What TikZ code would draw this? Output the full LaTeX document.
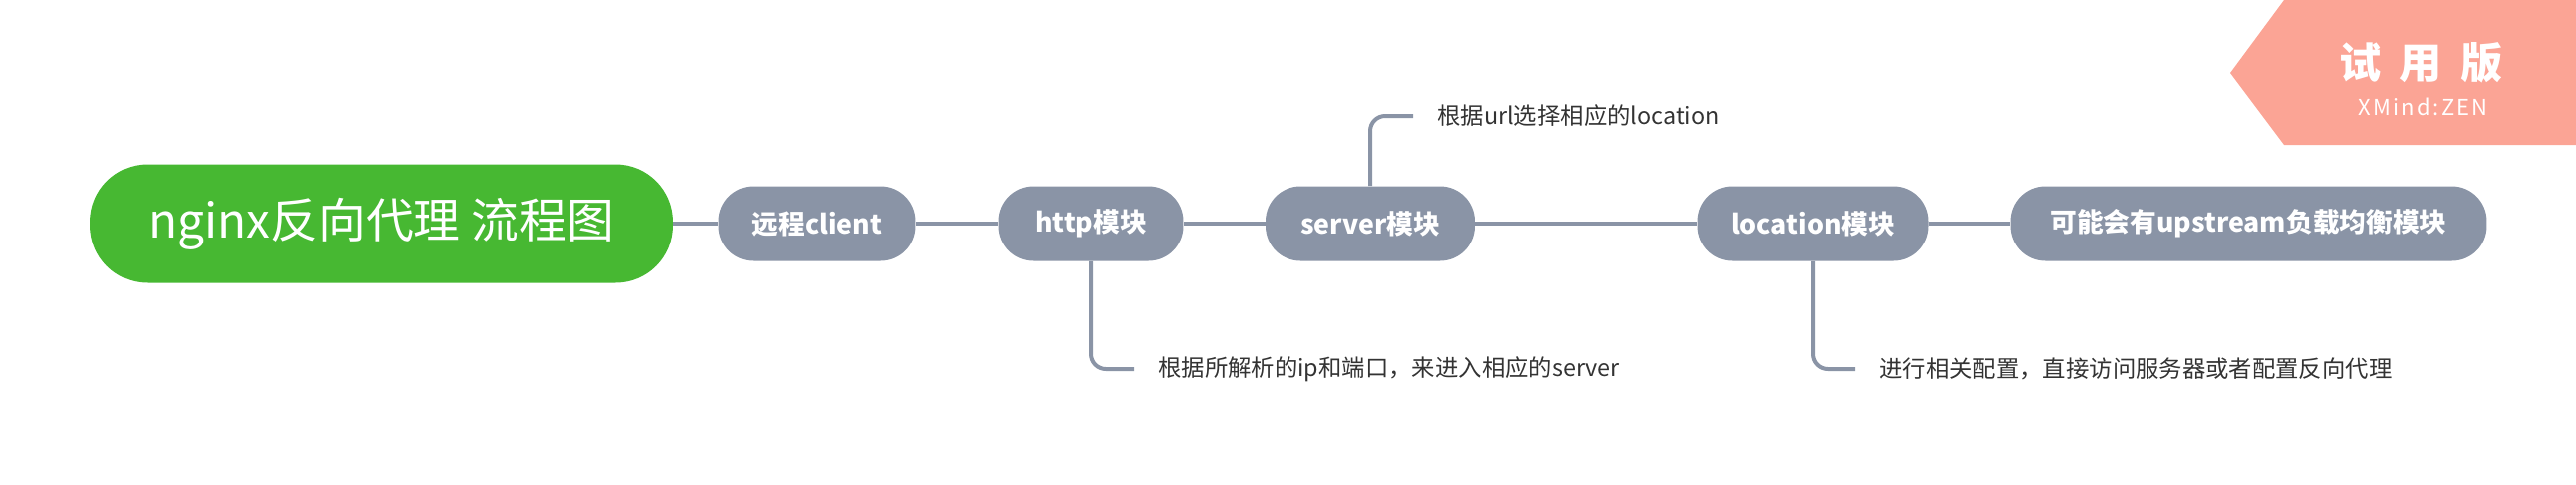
\documentclass[tikz,border=0pt]{standalone}
\usepackage{fontspec}
\setmainfont{Noto Sans CJK SC}
\definecolor{rootgreen}{HTML}{47B832}
\definecolor{topicgray}{HTML}{8A94A6}
\definecolor{trialpink}{HTML}{FBA495}
\definecolor{notetext}{HTML}{333333}

\begin{document}
\begin{tikzpicture}[x=0.02cm,y=-0.02cm,
		topic/.style={fill=topicgray,text=white,font=\bfseries\fontsize{15.2}{17}\selectfont,rounded corners=0.7cm,minimum height=1.5cm,inner sep=0pt},
		branch/.style={topicgray,line width=0.08cm},
		note/.style={anchor=west,text=notetext,font=\fontsize{13.3}{15}\selectfont,inner xsep=0.48cm,inner ysep=0pt}]
		\useasboundingbox (0,0) rectangle (2579,485);
		
		\node[fill=rootgreen,text=white,rounded corners=1.15cm,minimum width=11.68cm,minimum height=2.38cm,font=\fontsize{27.2}{31}\selectfont] (root) at (382,224) {nginx反向代理 流程图};
		\node[topic,minimum width=3.94cm] (client) at (818,224) {远程client};
		\node[topic,minimum width=3.7cm] (http) at (1092,224) {http模块};
		\node[topic,minimum width=4.2cm] (server) at (1372,224) {server模块};
		\node[topic,minimum width=4.62cm] (location) at (1815,224) {location模块};
		\node[topic,minimum width=9.54cm] (upstream) at (2251,224) {可能会有upstream负载均衡模块};
		
		\draw[branch] (root) -- (client);
		\draw[branch] (client) -- (http);
		\draw[branch] (http) -- (server);
		\draw[branch] (server) -- (location);
		\draw[branch] (location) -- (upstream);
		
		\node[note] (urlnote) at (1415,116) {根据url选择相应的location};
		\node[note] (ipnote) at (1135,370) {根据所解析的ip和端口，来进入相应的server};
		\node[note] (confnote) at (1857,370) {进行相关配置，直接访问服务器或者配置反向代理};
		\draw[branch,rounded corners=0.3cm] (server.north) |- (urlnote.west);
		\draw[branch,rounded corners=0.3cm] (http.south) |- (ipnote.west);
		\draw[branch,rounded corners=0.3cm] (location.south) |- (confnote.west);
		
		\fill[trialpink] (2287,0) -- (2233,73) -- (2287,145) -- (2579,145) -- (2579,0) -- cycle;
		\node[text=white,font=\bfseries\fontsize{24}{26}\selectfont] (trial) at (2424,63) {试\hspace{0.36cm}用\hspace{0.36cm}版};
		\node[text=white,font=\fontsize{12.5}{14}\selectfont\addfontfeature{LetterSpace=10}] (xmind) at (2426,107) {XMind:ZEN};
	\end{tikzpicture}
\end{document}
